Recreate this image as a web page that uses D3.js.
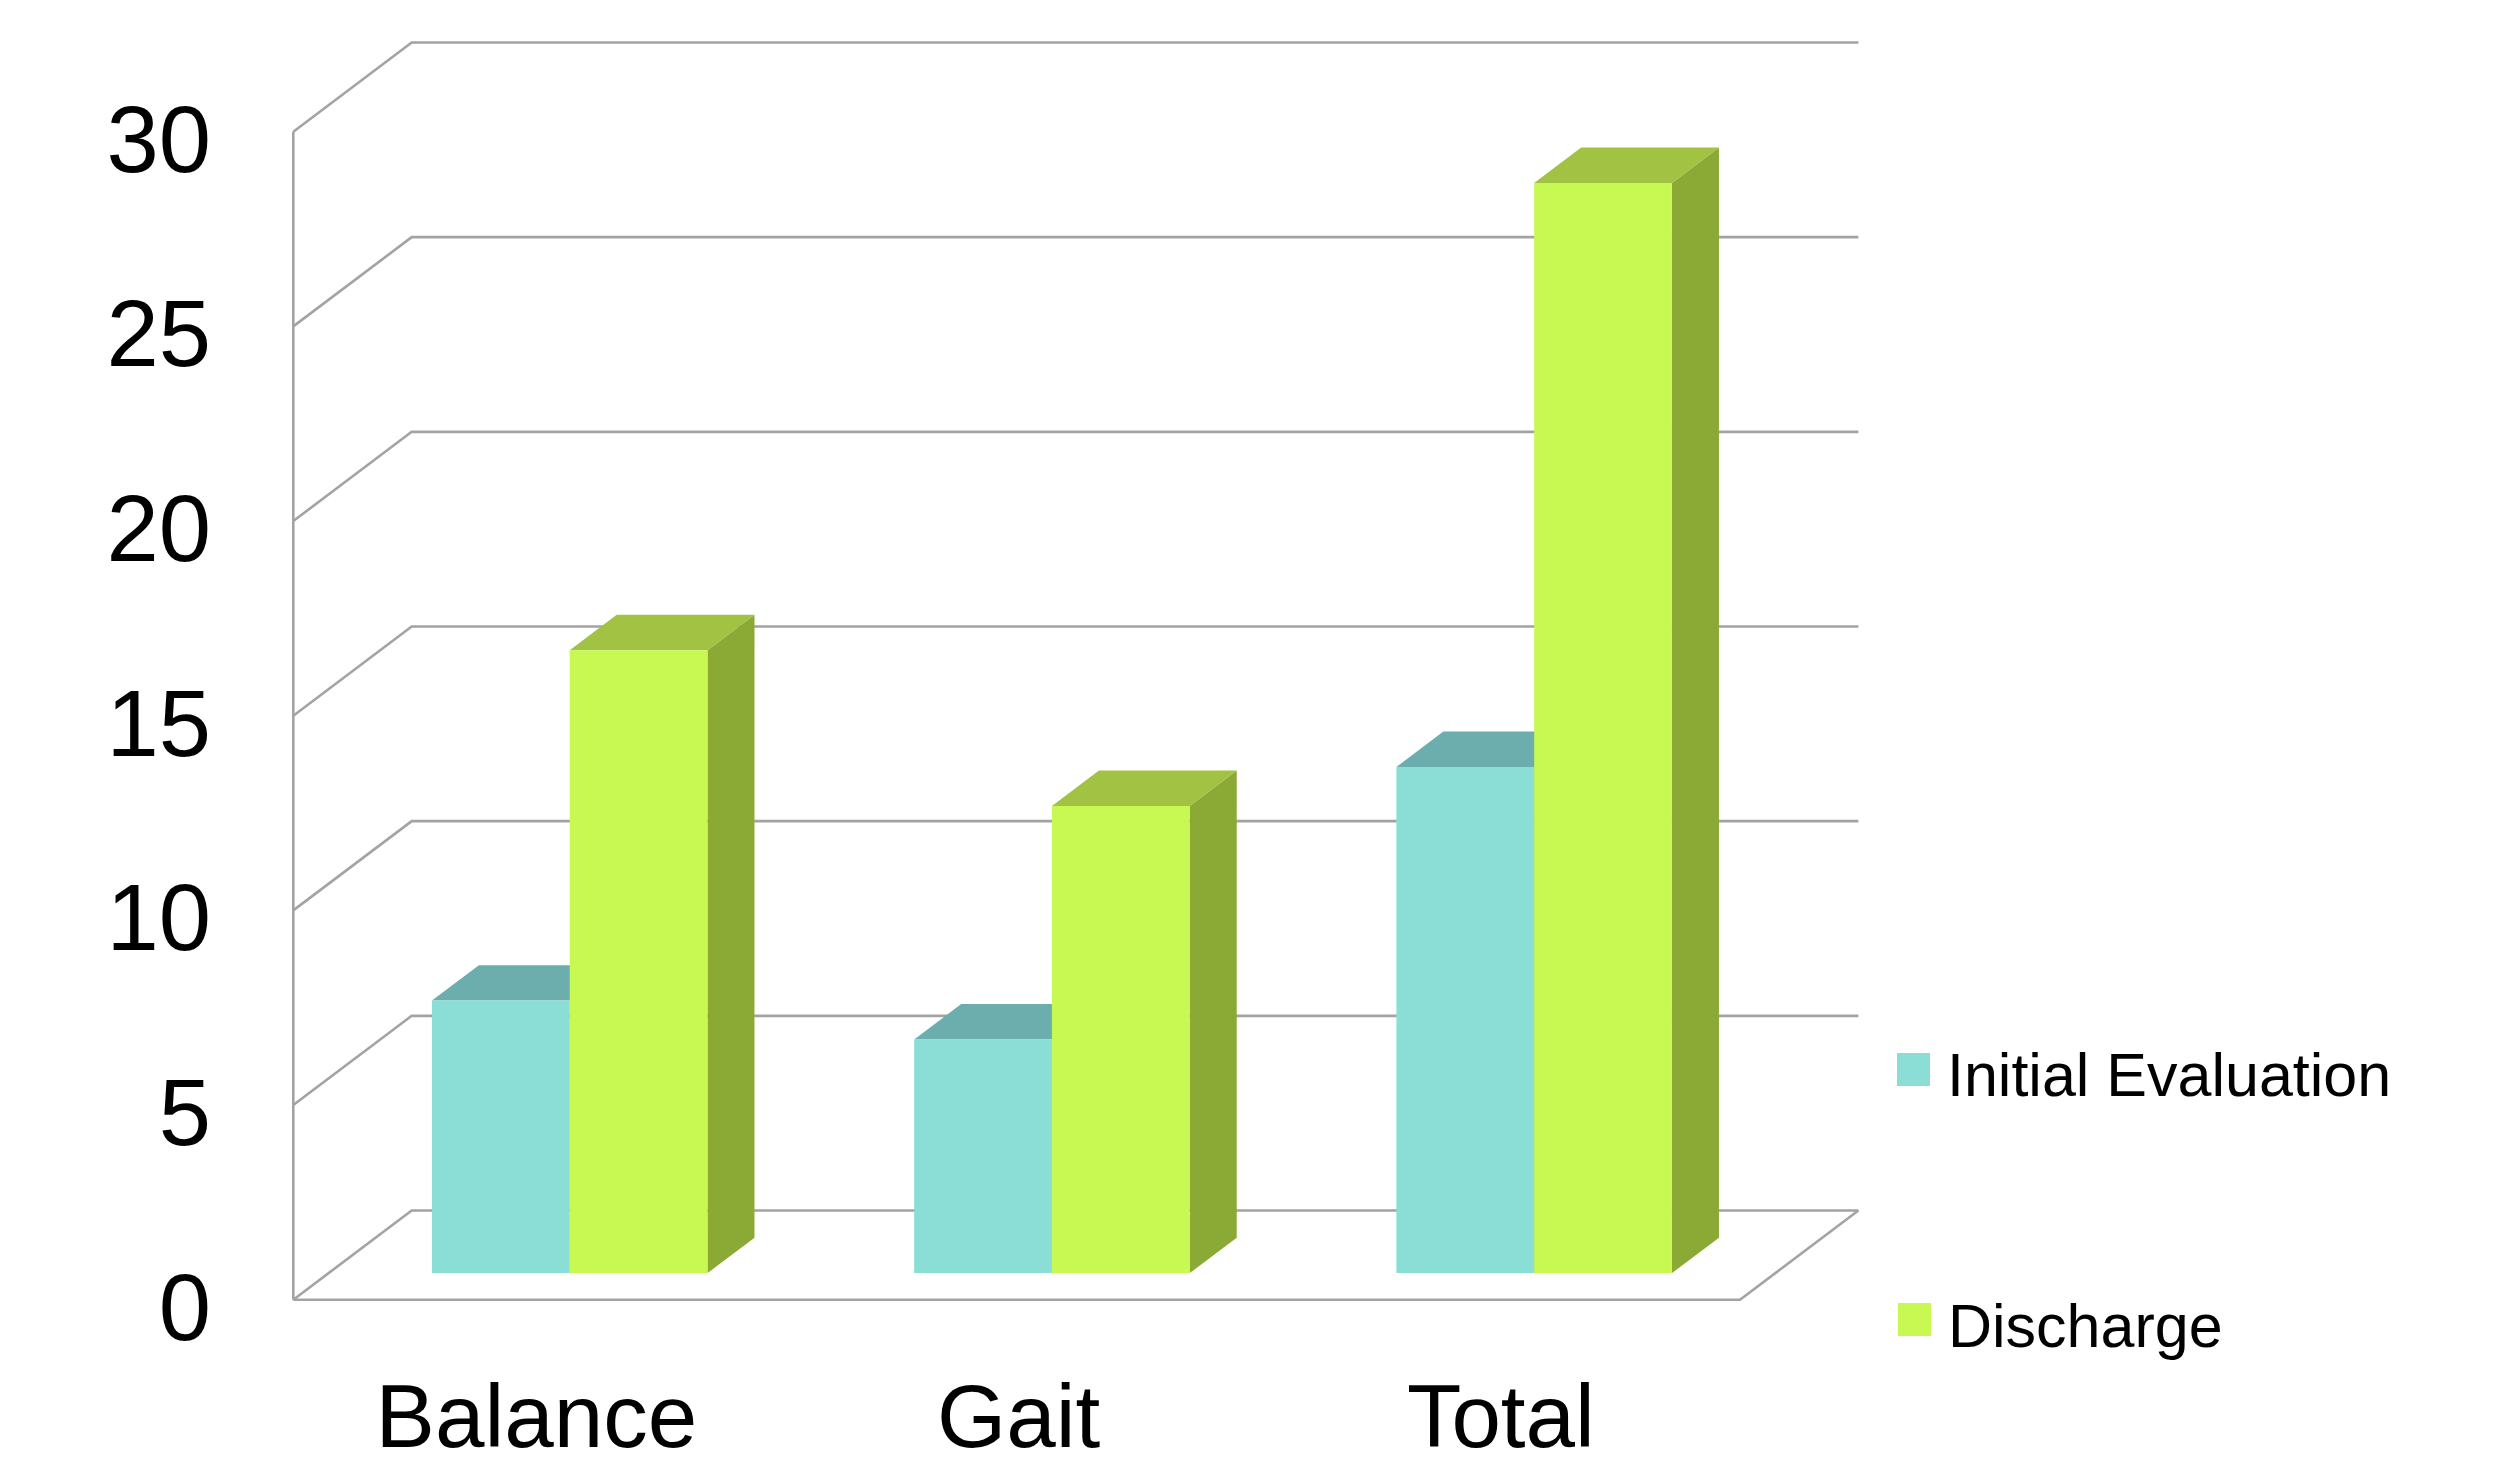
<!DOCTYPE html>
<html>
<head>
<meta charset="utf-8">
<script src="https://cdn.jsdelivr.net/npm/d3@7"></script>
<style>
  html, body { margin: 0; padding: 0; background: #ffffff; }
  svg { display: block; }
</style>
</head>
<body>
<svg id="chart" width="2506" height="1467"></svg>
<script>
// ---- data ----
const categories = ["Balance", "Gait", "Total"];
const seriesNames = ["Initial Evaluation", "Discharge"];
const initialEvaluation = [7, 6, 13];
const discharge = [16, 12, 28];
const yTicks = [0, 5, 10, 15, 20, 25, 30];

// ---- style ----
const colors = {
  "Initial Evaluation": { front: "#8ADED6", top: "#6CAEAD", side: "#62A29E" },
  "Discharge": { front: "#C8F852", top: "#A2C244", side: "#8AAA35" }
};
const gridColor = "#A3A3A3";

// ---- geometry ----
const frontLeft = 293.3, frontRight = 1740, frontBottom = 1299.7, frontTop = 131.7;
const depthDX = 118.4, depthDY = 89.2;   // full depth offset of the floor
const barZ0 = 0.298, barZ1 = 0.695;      // bar depth span (fraction)

const svg = d3.select("#chart");

const x0 = d3.scaleBand().domain(categories).range([frontLeft, frontRight]).paddingInner(0).paddingOuter(0);
const bw = x0.bandwidth();
const x1 = d3.scaleBand().domain(seriesNames).range([bw * 0.75 / 3.5, bw * 2.75 / 3.5]).padding(0);
const y = d3.scaleLinear().domain([0, 30]).range([frontBottom, frontTop]);

// project (floor x, value, depth z) -> screen
function P(x, v, z) { return [x + z * depthDX, y(v) - z * depthDY]; }
const line = d3.line();

// ---- walls / gridlines ----
const grid = svg.append("g").attr("fill", "none").attr("stroke", gridColor).attr("stroke-width", 2.6);
yTicks.forEach(t => {
  grid.append("path").attr("d", line([P(frontLeft, t, 0), P(frontLeft, t, 1), P(frontRight, t, 1)]));
});
// floor
grid.append("path").attr("d", line([P(frontLeft, 0, 0), P(frontRight, 0, 0), P(frontRight, 0, 1)]));
// vertical front axis
grid.append("path").attr("d", line([P(frontLeft, 30, 0), P(frontLeft, 0, 0)]));

// ---- bars ----
const bars = svg.append("g");
const seriesData = { "Initial Evaluation": initialEvaluation, "Discharge": discharge };
categories.forEach((c, i) => {
  seriesNames.forEach(s => {
    const v = seriesData[s][i];
    const xl = x0(c) + x1(s), xr = xl + x1.bandwidth();
    const col = colors[s];
    // right side face
    bars.append("path").attr("fill", col.side)
      .attr("d", line([P(xr, 0, barZ0), P(xr, 0, barZ1), P(xr, v, barZ1), P(xr, v, barZ0)]) + "Z");
    // top face
    bars.append("path").attr("fill", col.top)
      .attr("d", line([P(xl, v, barZ0), P(xl, v, barZ1), P(xr, v, barZ1), P(xr, v, barZ0)]) + "Z");
    // front face
    bars.append("path").attr("fill", col.front)
      .attr("d", line([P(xl, 0, barZ0), P(xl, v, barZ0), P(xr, v, barZ0), P(xr, 0, barZ0)]) + "Z");
  });
});

// ---- y tick labels ----
svg.append("g").selectAll("text").data(yTicks).join("text")
  .attr("x", 211)
  .attr("y", d => y(d) + 40)
  .attr("text-anchor", "end")
  .attr("font-family", "Liberation Sans, Arial, sans-serif")
  .attr("font-size", 94)
  .attr("fill", "#000")
  .text(d => d);

// ---- category labels ----
svg.append("g").selectAll("text").data(categories).join("text")
  .attr("x", d => x0(d) + bw / 2 + 2)
  .attr("y", 1447)
  .attr("text-anchor", "middle")
  .attr("font-family", "Liberation Sans, Arial, sans-serif")
  .attr("font-size", 89)
  .attr("fill", "#000")
  .text(d => d);

// ---- legend ----
const legendRows = [
  { name: "Initial Evaluation", sx: 1897, sy: 1053, tx: 1947, ty: 1096 },
  { name: "Discharge", sx: 1898, sy: 1303, tx: 1948, ty: 1347 }
];
const lg = svg.append("g");
legendRows.forEach(r => {
  lg.append("rect").attr("x", r.sx).attr("y", r.sy).attr("width", 33).attr("height", 33)
    .attr("fill", colors[r.name].front);
  lg.append("text").attr("x", r.tx).attr("y", r.ty)
    .attr("font-family", "Liberation Sans, Arial, sans-serif")
    .attr("font-size", 61).attr("fill", "#000").text(r.name);
});
</script>
</body>
</html>
